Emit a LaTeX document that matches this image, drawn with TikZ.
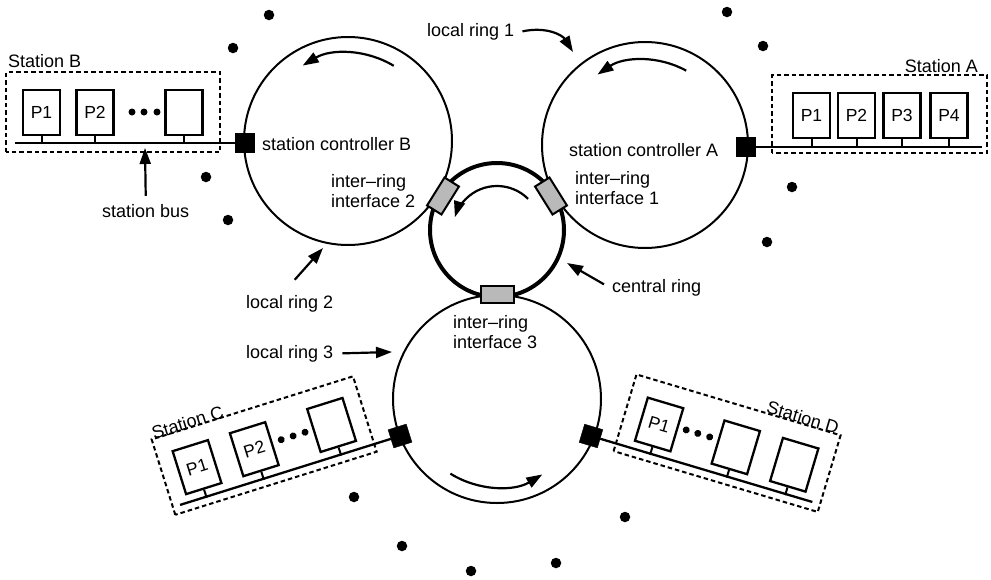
\documentclass[tikz,border=0pt]{standalone}
\usepackage{fontspec}
\setmainfont{Liberation Sans}
\usetikzlibrary{arrows.meta}
\begin{document}
\begin{tikzpicture}[x=1pt,y=1pt,
  ring/.style={circle,draw,line width=2pt,inner sep=0pt,outer sep=0pt},
  lbl/.style={font=\fontsize{18}{20}\selectfont,inner sep=0pt},
  proc/.style={draw,line width=2.3pt,minimum width=37pt,minimum height=45pt,inner sep=0pt,fill=white,font=\fontsize{17.5}{20}\selectfont},
  stub/.style={line width=2pt},
  bus/.style={line width=2.3pt},
  ctrl/.style={fill=black,draw=black,minimum size=19pt,inner sep=0pt},
  iface/.style={draw,line width=2pt,fill=gray!55,minimum width=33pt,minimum height=17pt,inner sep=0pt},
  dashbox/.style={draw,line width=2pt,dash pattern=on 4.5pt off 3pt},
  arr/.style={line width=2.2pt,-{Triangle[length=16pt,width=11pt]}},
  bigdot/.style={circle,fill=black,minimum size=10.5pt,inner sep=0pt},
  smalldot/.style={circle,fill=black,minimum size=7pt,inner sep=0pt},
]
\path[use as bounding box] (0,0) rectangle (991,-579);

% scattered dots
\foreach \px/\py [count=\i] in {269/15,233/48,727/12,763/46,206/177,228/220,792/187,767/242,354/497,402/546,471/571,556/563,625/517}
  \node[bigdot] (dot\i) at (\px,-\py) {};

% rings
\node[ring,minimum size=208pt] (ringB) at (348,-141) {};
\node[ring,minimum size=206pt] (ringA) at (645,-145) {};
\node[ring,minimum size=208pt] (ring3) at (497,-399) {};
\node[ring,minimum size=134pt,line width=4pt] (ringC) at (497,-230) {};

% direction arrows on rings
\draw[arr] ([shift={(58.7:88)}]ringB.center) arc[start angle=58.7,end angle=121,radius=88];
\draw[arr] ([shift={(61:85)}]ringA.center) arc[start angle=61,end angle=124,radius=85];
\draw[arr] ([shift={(45:44)}]ringC.center) arc[start angle=45,end angle=163,radius=44];
\draw[arr] ([shift={(-122:88)}]ring3.center) arc[start angle=-122,end angle=-59,radius=88];

% inter-ring interfaces
\node[iface,rotate=58] (if2) at (443,-196) {};
\node[iface,rotate=-58] (if1) at (551,-196) {};
\node[iface] (if3) at (497,-294) {};

% Station B
\begin{scope}[shift={(245,-143)}]
  \node[ctrl] (cB) at (0,0) {};
  \coordinate (busB) at (-230,0);
  \draw[bus] (busB) -- (cB);
  \draw[dashbox] (-239,-9) rectangle (-25,71);
  \node[proc] (bP1) at (-203.5,30.5) {P1};
  \node[proc] (bP2) at (-150,30.5) {P2};
  \node[proc] (bP3) at (-61,30.5) {};
  \foreach \n in {bP1,bP2,bP3} \draw[stub] (\n.south) -- ++(0,-8);
  \foreach \s in {-113,-101,-88} \node[smalldot] at (\s,31) {};
  \node[lbl,anchor=base west] (stB) at (-237,76) {Station B};
\end{scope}

% Station A
\begin{scope}[shift={(746,-147)}]
  \node[ctrl] (cA) at (0,0) {};
  \coordinate (busA) at (236,0);
  \draw[bus] (cA) -- (busA);
  \draw[dashbox] (26,-6) rectangle (241,72);
  \node[proc] (aP1) at (65.5,31.5) {P1};
  \node[proc] (aP2) at (110.5,31.5) {P2};
  \node[proc] (aP3) at (156,31.5) {P3};
  \node[proc] (aP4) at (203,31.5) {P4};
  \foreach \n in {aP1,aP2,aP3,aP4} \draw[stub] (\n.south) -- ++(0,-9);
  \node[lbl,anchor=base east] (stA) at (232,75) {Station A};
\end{scope}

% Station C
\begin{scope}[shift={(400,-436)},rotate=17.4,every node/.append style={transform shape}]
  \node[ctrl] (cC) at (0,0) {};
  \coordinate (busC) at (-230.5,0);
  \draw[bus] (busC) -- (cC);
  \draw[dashbox] (-238,-8) rectangle (-27,71);
  \node[proc] (cP1) at (-203,31) {P1};
  \node[proc] (cP2) at (-143,31) {P2};
  \node[proc] (cP3) at (-62,31) {};
  \foreach \n in {cP1,cP2,cP3} \draw[stub] (\n.south) -- ++(0,-8.5);
  \foreach \s in {-114.5,-102,-89.5} \node[smalldot] at (\s,32) {};
  \node[lbl,anchor=base west] (stC) at (-236,70) {Station C};
\end{scope}

% Station D
\begin{scope}[shift={(591,-436)},rotate=-16.6,every node/.append style={transform shape}]
  \node[ctrl] (cD) at (0,0) {};
  \coordinate (busD) at (231,0);
  \draw[bus] (cD) -- (busD);
  \draw[dashbox] (26,-8) rectangle (239,72);
  \node[proc] (dP1) at (62,30.5) {P1};
  \node[proc] (dP2) at (142,30.5) {};
  \node[proc] (dP3) at (203,30.5) {};
  \foreach \n in {dP1,dP2,dP3} \draw[stub] (\n.south) -- ++(0,-8);
  \foreach \s in {89.5,101.6,114} \node[smalldot] at (\s,33) {};
  \node[lbl,anchor=base east] (stD) at (235,72) {Station D};
\end{scope}

% labels
\node[lbl,anchor=base west] (lr1) at (427,-36) {local ring 1};
\node[lbl,anchor=base west] (scB) at (262,-150) {station controller B};
\node[lbl,anchor=base west] (scA) at (569,-156) {station controller A};
\node[lbl,anchor=base west,align=left] (ir2) at (331,-207) {inter--ring\\interface 2};
\node[lbl,anchor=base west,align=left] (ir1) at (575,-204) {inter--ring\\interface 1};
\node[lbl,anchor=base west,align=left] (ir3) at (453,-348) {inter--ring\\interface 3};
\node[lbl,anchor=base west] (cr) at (612,-292) {central ring};
\node[lbl,anchor=base west] (lr2) at (246,-308) {local ring 2};
\node[lbl,anchor=base west] (lr3) at (246,-358) {local ring 3};
\node[lbl,anchor=base west] (sb) at (102,-217) {station bus};

% pointer arrows
\coordinate (lr1tip) at (573,-52);
\coordinate (crtip) at (567,-263);
\coordinate (lr2tip) at (323,-248);
\coordinate (lr3tip) at (392,-352);
\coordinate (sbtip) at (145,-148);
\draw[arr] ([xshift=8pt]lr1.east) .. controls (548,-26) and (563,-36) .. (lr1tip);
\draw[arr] ([xshift=-8pt,yshift=3pt]cr.west) -- (crtip);
\draw[arr] ([shift={(5,15)}]lr2.north) -- (lr2tip);
\draw[arr] ([xshift=9pt]lr3.east) -- (lr3tip);
\draw[arr] ([yshift=8pt]sb.north) -- (sbtip);
\end{tikzpicture}
\end{document}
